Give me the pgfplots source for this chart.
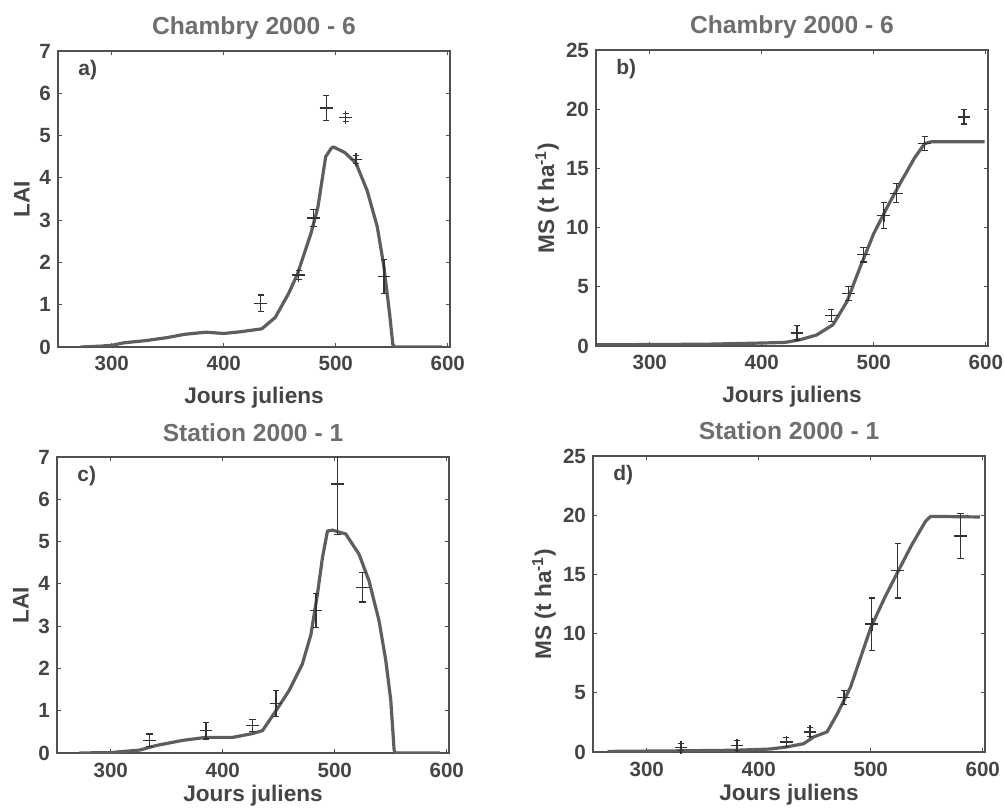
\documentclass[border=0pt]{standalone}
\usepackage{fontspec}
\setmainfont{Liberation Sans}
\usepackage{pgfplots}
\pgfplotsset{compat=1.18}
\definecolor{txtgray}{HTML}{454545}
\definecolor{titgray}{HTML}{6E6E6E}
\definecolor{axgray}{HTML}{505050}
\definecolor{curvegray}{HTML}{5E5E5E}
\definecolor{obsgray}{HTML}{333333}
\pgfplotsset{
  panel/.style={
    scale only axis, width=196pt, height=148pt,
    xmin=252, xmax=602, xtick={300,400,500,600},
    tick align=inside, major tick length=2pt,
    axis line style={draw=axgray, line width=0.8pt},
    every tick/.style={draw=axgray, line width=0.6pt},
    /pgf/number format/assume math mode=true,
    tick label style={font=\fontsize{10.3}{12}\selectfont\bfseries, text=txtgray},
    xticklabel style={anchor=base, yshift=-12pt},
    label style={font=\fontsize{11.3}{13}\selectfont\bfseries, text=txtgray},
    xlabel={Jours juliens},
    xlabel style={at={(axis description cs:0.5,-0.19)}, anchor=base},
    title style={font=\fontsize{12.3}{14}\selectfont\bfseries, text=titgray,
                 at={(axis description cs:0.5,1)}, anchor=base, yshift=2pt},
  },
  lowrow/.style={xlabel style={at={(axis description cs:0.5,-0.165)}}},
  lai/.style={ymin=0, ymax=7, ytick={0,1,...,7}, ylabel={LAI},
    ylabel style={at={(axis description cs:-0.092,0.5)}, anchor=center}},
  ms/.style={ymin=0, ymax=25, ytick={0,5,...,25}, ylabel={MS (t ha\textsuperscript{-1})},
    ylabel style={at={(axis description cs:-0.125,0.5)}, anchor=center}},
  model/.style={color=curvegray, line width=1.6pt, no marks, line join=round},
  obs/.style={only marks, mark=+, mark size=3.2pt, color=obsgray,
    mark options={line width=0.65pt},
    error bars/.cd, y dir=both, y explicit,
    error bar style={line width=0.6pt, color=obsgray},
    error mark options={rotate=90, mark size=1.6pt, line width=0.6pt, color=obsgray}},
}
\newcommand{\panellabel}[1]{\node[anchor=north west, inner sep=0pt, font=\fontsize{10.5}{12}\selectfont\bfseries, text=txtgray] at ([xshift=10pt,yshift=-4.5pt]rel axis cs:0,1) {#1};}
\begin{document}
\begin{tikzpicture}
\path[use as bounding box] (0,0) rectangle (502pt,404pt);
% a)
\begin{axis}[panel, lai, at={(29pt,230.5pt)}, anchor=south west, title={Chambry 2000 - 6}]
\addplot[model] coordinates {(272,0) (290,0.02) (300,0.04) (311,0.1) (330,0.15) (349,0.22) (365,0.3) (384,0.35) (400,0.32) (415,0.36) (434,0.43) (446,0.7) (458,1.27) (466,1.74) (478,2.7) (484,3.3) (491,4.5) (496,4.7) (498,4.73) (508,4.6) (518,4.35) (528,3.7) (537,2.85) (543,1.9) (548,0.8) (551,0.05) (553,0) (595,0)};
\addplot[obs] coordinates {(433,1.03) +- (0,0.2) (467,1.70) +- (0,0.1) (480,3.05) +- (0,0.2) (491.5,5.65) +- (0,0.3) (509,5.43) +- (0,0.1) (518,4.43) +- (0,0.1) (543,1.66) +- (0,0.4)};
\panellabel{a)}
\end{axis}
% b)
\begin{axis}[panel, ms, at={(298pt,231pt)}, anchor=south west, title={Chambry 2000 - 6}]
\addplot[model] coordinates {(253,0.1) (350,0.15) (400,0.25) (420,0.3) (424.5,0.36) (435,0.55) (449,0.93) (463.6,1.8) (476,3.74) (488,6.7) (500,9.5) (512.4,11.8) (524.5,13.9) (536.5,15.9) (545.5,17.1) (551.5,17.25) (599,17.25)};
\addplot[obs] coordinates {(431.5,1.1) +- (0,0.6) (462,2.6) +- (0,0.5) (477.5,4.45) +- (0,0.6) (491,7.7) +- (0,0.6) (509,11.05) +- (0,1.1) (520,12.9) +- (0,0.8) (545.5,17.1) +- (0,0.6) (580.6,19.35) +- (0,0.6)};
\panellabel{b)}
\end{axis}
% c)
\begin{axis}[panel, lai, lowrow, at={(28.5pt,27.5pt)}, anchor=south west, title={Station 2000 - 1}]
\addplot[model] coordinates {(272,0) (300,0.01) (326,0.07) (341,0.18) (364.5,0.30) (385,0.37) (409,0.37) (426.6,0.46) (435.5,0.53) (447.5,1.0) (459.3,1.48) (471,2.1) (478.7,2.8) (484.6,3.77) (489,4.62) (493.5,5.25) (498,5.27) (509.8,5.18) (521.7,4.7) (530.6,4.07) (539.5,3.13) (545.5,2.2) (550,1.25) (553,0.07) (554,0) (594,0)};
\addplot[obs] coordinates {(334.7,0.3) +- (0,0.15) (385,0.53) +- (0,0.2) (426.7,0.65) +- (0,0.15) (447.5,1.17) +- (0,0.3) (483.2,3.37) +- (0,0.4) (502.4,6.36) +- (0,1.2) (524.7,3.92) +- (0,0.35)};
\panellabel{c)}
\end{axis}
% d)
\begin{axis}[panel, ms, lowrow, at={(296.5pt,28pt)}, anchor=south west, title={Station 2000 - 1}]
\addplot[model] coordinates {(265,0.05) (330,0.1) (380,0.15) (410,0.25) (424.5,0.42) (440,0.7) (449,1.27) (461,1.7) (470,3.2) (482,5.5) (491,8.0) (500,10.5) (512.5,13.05) (524.6,15.3) (536.9,17.55) (549,19.5) (553.5,19.9) (597.5,19.85)};
\addplot[obs] coordinates {(330.5,0.4) +- (0,0.3) (380.5,0.55) +- (0,0.4) (424.5,0.85) +- (0,0.4) (445.7,1.7) +- (0,0.4) (476,4.6) +- (0,0.6) (501,10.8) +- (0,2.2) (524.1,15.3) +- (0,2.3) (580,18.25) +- (0,1.9)};
\panellabel{d)}
\end{axis}
\end{tikzpicture}
\end{document}
